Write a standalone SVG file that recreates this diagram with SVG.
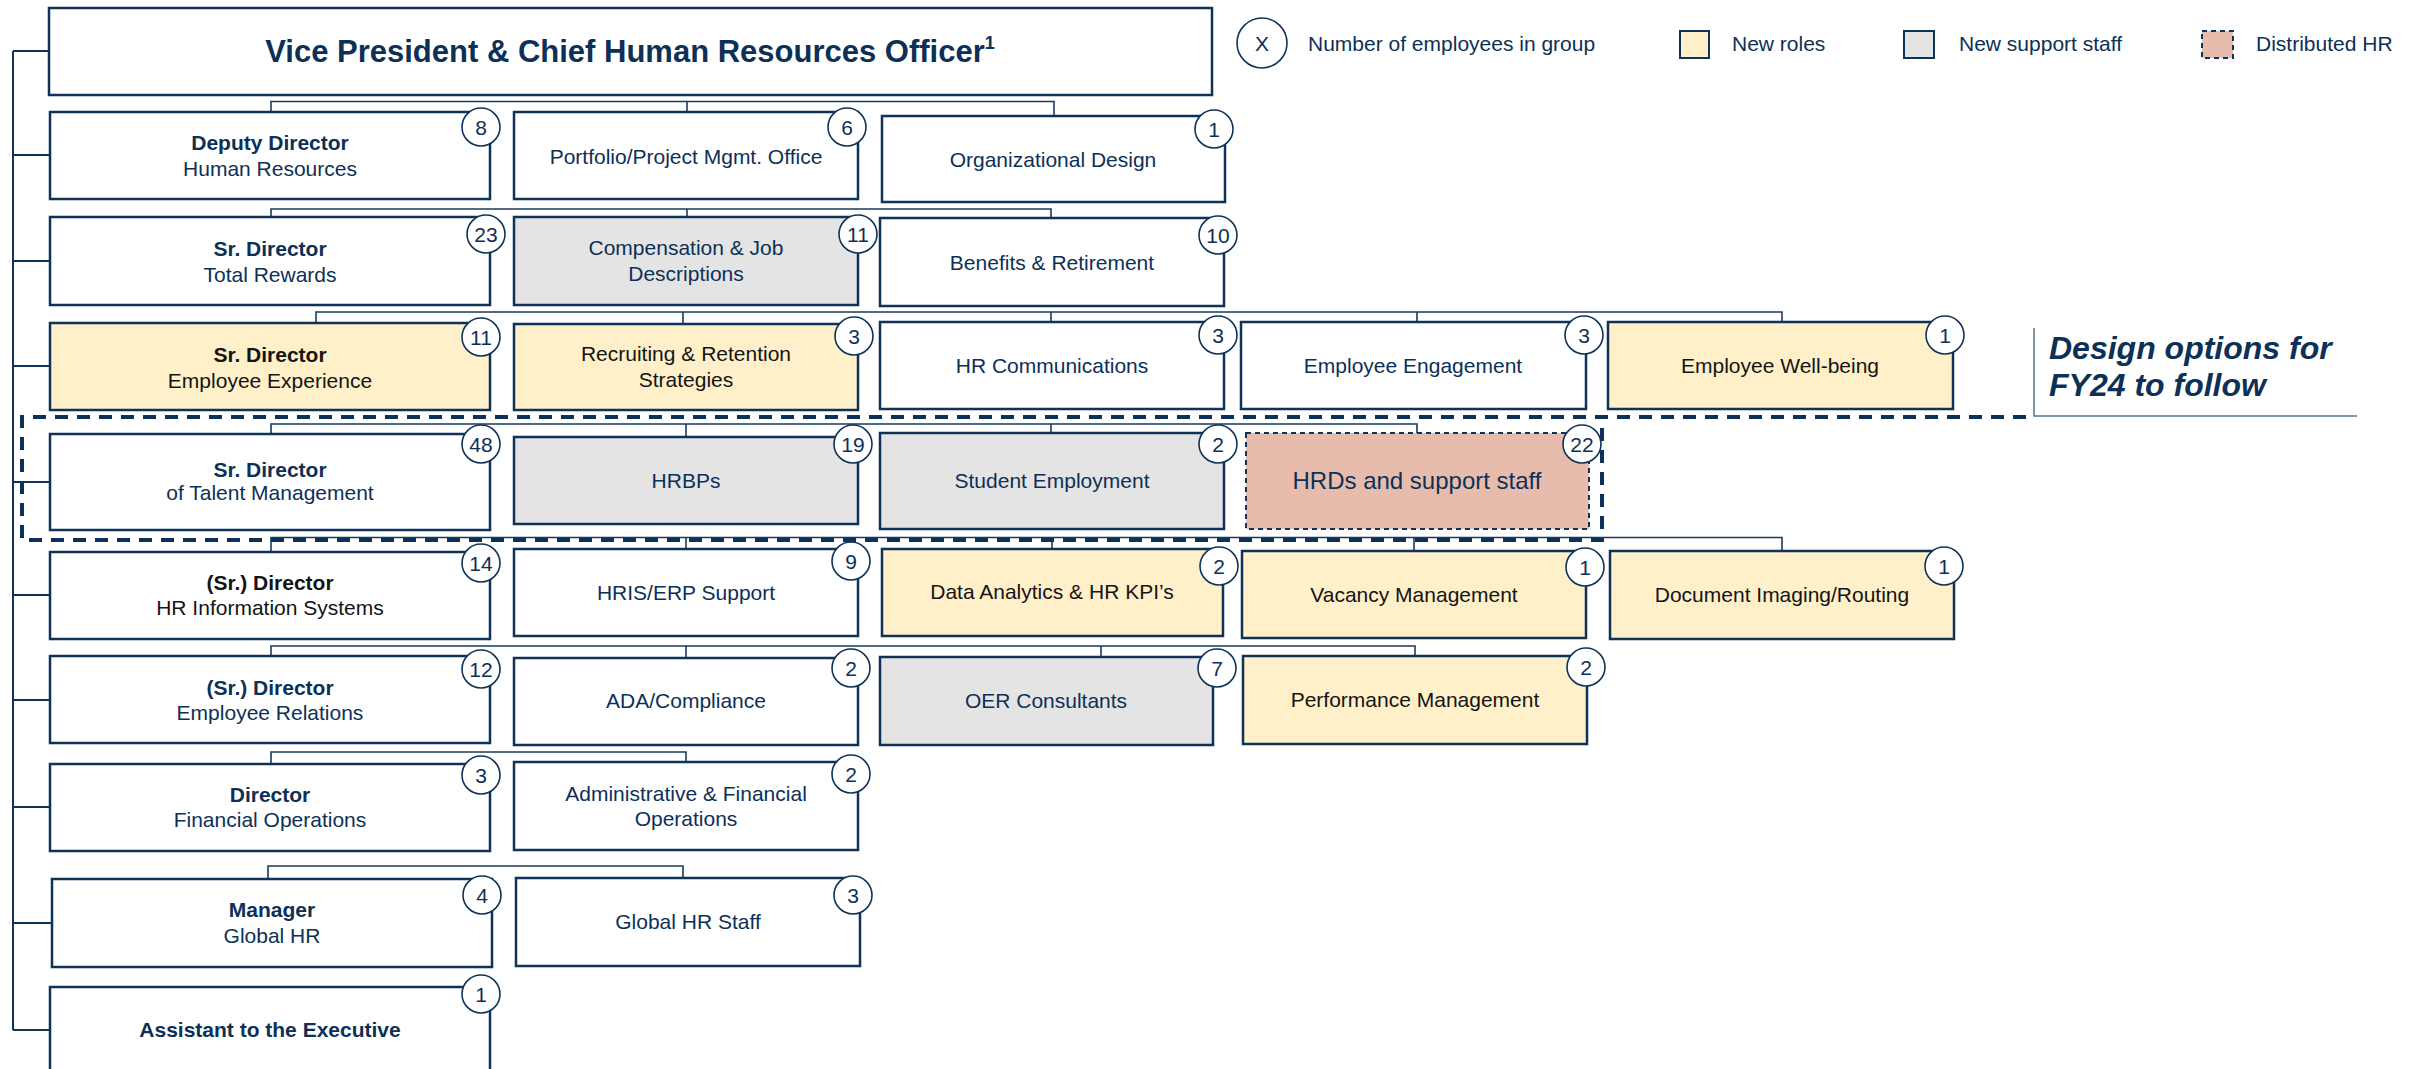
<svg xmlns="http://www.w3.org/2000/svg" width="2409" height="1069" viewBox="0 0 2409 1069">
<style>
.box{fill:#fff;stroke:#0f3358;stroke-width:2.5}
.y{fill:#fff0c9}
.g{fill:#e4e4e4}
.p{fill:#e7bcad;stroke-dasharray:5 4;stroke-width:2}
text{font-family:"Liberation Sans",Arial,sans-serif;font-size:21px;fill:#0d3057;text-anchor:middle}
.b{font-weight:bold}
.k{fill:#141414}
.bd{fill:#fff;stroke:#0f3358;stroke-width:1.6}
.c{fill:none;stroke:#1a3a5e;stroke-width:1.6}
.sp{fill:none;stroke:#0f3358;stroke-width:2}
.lg{text-anchor:start}
</style>
<rect width="2409" height="1069" fill="#fff"/>
<g id="connectors">
<path class="sp" d="M13 51V1030M13 51H50M13 155H50M13 261H50M13 366H50M13 482H50M13 595H50M13 700H50M13 807H50M13 923H52M13 1030H50"/>
<path class="c" d="M271 112V101.5H1054V116M687 101.5V112"/>
<path class="c" d="M271 217V209H1051V218M687 209V217"/>
<path class="c" d="M316 323V312H1782V322M683 312V324M1051 312V322M1417 312V322"/>
<path class="c" d="M271 434V424H1417V433M686 424V437M1051 424V433"/>
<path class="c" d="M271 552V537.5H1782V551M686 537.5V549M1052 537.5V549M1414 537.5V551"/>
<path class="c" d="M271 656V646H1415V656M686 646V658M1101 646V657"/>
<path class="c" d="M271 764V752H686V762"/>
<path class="c" d="M268 879V866H683V878"/>
</g>
<g id="vp"><rect class="box" x="49" y="8" width="1163" height="87"/><text class="b" x="630" y="62" style="font-size:31px">Vice President &amp; Chief Human Resources Officer<tspan style="font-size:18px" dy="-13">1</tspan></text></g>

<g id="deputy"><rect class="box" x="50" y="112" width="440" height="87"/><text class="b" x="270" y="150">Deputy Director</text><text x="270" y="176">Human Resources</text><circle class="bd" cx="481" cy="127" r="19"/><text x="481" cy="0" y="134.5">8</text></g>
<g id="pmo"><rect class="box" x="514" y="112" width="344" height="87"/><text x="686" y="164">Portfolio/Project Mgmt. Office</text><circle class="bd" cx="847" cy="127" r="19"/><text x="847" y="134.5">6</text></g>
<g id="orgdesign"><rect class="box" x="882" y="116" width="343" height="86"/><text x="1053" y="167">Organizational Design</text><circle class="bd" cx="1214" cy="129" r="19"/><text x="1214" y="136.5">1</text></g>

<g id="totalrewards"><rect class="box" x="50" y="217" width="440" height="88"/><text class="b" x="270" y="256">Sr. Director</text><text x="270" y="282">Total Rewards</text><circle class="bd" cx="486" cy="234" r="19"/><text x="486" y="241.5">23</text></g>
<g id="compensation"><rect class="box g" x="514" y="217" width="344" height="88"/><text x="686" y="255">Compensation &amp; Job</text><text x="686" y="281">Descriptions</text><circle class="bd" cx="858" cy="234" r="19"/><text x="858" y="241.5">11</text></g>
<g id="benefits"><rect class="box" x="880" y="218" width="344" height="88"/><text x="1052" y="270">Benefits &amp; Retirement</text><circle class="bd" cx="1218" cy="235" r="19"/><text x="1218" y="242.5">10</text></g>

<g id="empexp"><rect class="box y" x="50" y="323" width="440" height="87"/><text class="b k" x="270" y="362">Sr. Director</text><text class="k" x="270" y="388">Employee Experience</text><circle class="bd" cx="481" cy="337" r="19"/><text x="481" y="344.5">11</text></g>
<g id="recruiting"><rect class="box y" x="514" y="324" width="344" height="86"/><text class="k" x="686" y="361">Recruiting &amp; Retention</text><text class="k" x="686" y="387">Strategies</text><circle class="bd" cx="854" cy="336" r="19"/><text x="854" y="343.5">3</text></g>
<g id="hrcomm"><rect class="box" x="880" y="322" width="344" height="87"/><text x="1052" y="373">HR Communications</text><circle class="bd" cx="1218" cy="335" r="19"/><text x="1218" y="342.5">3</text></g>
<g id="engagement"><rect class="box" x="1241" y="322" width="345" height="87"/><text x="1413" y="373">Employee Engagement</text><circle class="bd" cx="1584" cy="335" r="19"/><text x="1584" y="342.5">3</text></g>
<g id="wellbeing"><rect class="box y" x="1608" y="322" width="345" height="87"/><text class="k" x="1780" y="373">Employee Well-being</text><circle class="bd" cx="1945" cy="335" r="19"/><text x="1945" y="342.5">1</text></g>

<g id="talent"><rect class="box" x="50" y="434" width="440" height="96"/><text class="b" x="270" y="477">Sr. Director</text><text x="270" y="500">of Talent Management</text><circle class="bd" cx="481" cy="444" r="19"/><text x="481" y="451.5">48</text></g>
<g id="hrbps"><rect class="box g" x="514" y="437" width="344" height="87"/><text x="686" y="488">HRBPs</text><circle class="bd" cx="853" cy="444" r="19"/><text x="853" y="451.5">19</text></g>
<g id="student"><rect class="box g" x="880" y="433" width="344" height="96"/><text x="1052" y="488">Student Employment</text><circle class="bd" cx="1218" cy="444" r="19"/><text x="1218" y="451.5">2</text></g>
<g id="hrds"><rect class="box p" x="1246" y="433" width="343" height="96"/><text x="1417" y="489" style="font-size:24px">HRDs and support staff</text><circle class="bd" cx="1582" cy="444" r="19"/><text x="1582" y="451.5">22</text></g>

<g id="hris"><rect class="box" x="50" y="552" width="440" height="87"/><text class="b k" x="270" y="590">(Sr.) Director</text><text class="k" x="270" y="615">HR Information Systems</text><circle class="bd" cx="481" cy="563" r="19"/><text x="481" y="570.5">14</text></g>
<g id="erp"><rect class="box" x="514" y="549" width="344" height="87"/><text x="686" y="600">HRIS/ERP Support</text><circle class="bd" cx="851" cy="561" r="19"/><text x="851" y="568.5">9</text></g>
<g id="analytics"><rect class="box y" x="882" y="549" width="341" height="87"/><text class="k" x="1052" y="599">Data Analytics &amp; HR KPI’s</text><circle class="bd" cx="1219" cy="566" r="19"/><text x="1219" y="573.5">2</text></g>
<g id="vacancy"><rect class="box y" x="1242" y="551" width="344" height="87"/><text class="k" x="1414" y="602">Vacancy Management</text><circle class="bd" cx="1585" cy="567" r="19"/><text x="1585" y="574.5">1</text></g>
<g id="imaging"><rect class="box y" x="1610" y="551" width="344" height="88"/><text class="k" x="1782" y="602">Document Imaging/Routing</text><circle class="bd" cx="1944" cy="566" r="19"/><text x="1944" y="573.5">1</text></g>

<g id="emprel"><rect class="box" x="50" y="656" width="440" height="87"/><text class="b" x="270" y="695">(Sr.) Director</text><text x="270" y="720">Employee Relations</text><circle class="bd" cx="481" cy="669" r="19"/><text x="481" y="676.5">12</text></g>
<g id="ada"><rect class="box" x="514" y="658" width="344" height="87"/><text x="686" y="708">ADA/Compliance</text><circle class="bd" cx="851" cy="668" r="19"/><text x="851" y="675.5">2</text></g>
<g id="oer"><rect class="box g" x="880" y="657" width="333" height="88"/><text x="1046" y="708">OER Consultants</text><circle class="bd" cx="1217" cy="668" r="19"/><text x="1217" y="675.5">7</text></g>
<g id="performance"><rect class="box y" x="1243" y="656" width="344" height="88"/><text class="k" x="1415" y="707">Performance Management</text><circle class="bd" cx="1586" cy="667" r="19"/><text x="1586" y="674.5">2</text></g>

<g id="finops"><rect class="box" x="50" y="764" width="440" height="87"/><text class="b" x="270" y="802">Director</text><text x="270" y="827">Financial Operations</text><circle class="bd" cx="481" cy="775" r="19"/><text x="481" y="782.5">3</text></g>
<g id="adminfin"><rect class="box" x="514" y="762" width="344" height="88"/><text x="686" y="801">Administrative &amp; Financial</text><text x="686" y="826">Operations</text><circle class="bd" cx="851" cy="774" r="19"/><text x="851" y="781.5">2</text></g>

<g id="globalhr"><rect class="box" x="52" y="879" width="440" height="88"/><text class="b" x="272" y="917">Manager</text><text x="272" y="943">Global HR</text><circle class="bd" cx="482" cy="895" r="19"/><text x="482" y="902.5">4</text></g>
<g id="globalstaff"><rect class="box" x="516" y="878" width="344" height="88"/><text x="688" y="929">Global HR Staff</text><circle class="bd" cx="853" cy="895" r="19"/><text x="853" y="902.5">3</text></g>

<g id="assistant"><rect class="box" x="50" y="987" width="440" height="100"/><text class="b" x="270" y="1037">Assistant to the Executive</text><circle class="bd" cx="481" cy="994" r="19"/><text x="481" y="1001.5">1</text></g>

<g id="distributed-group"><path d="M2026 417H22V540H1602V417" fill="none" stroke="#0d3057" stroke-width="4" stroke-dasharray="13 9"/></g>

<g id="design-note"><path d="M2034 328V416H2357" fill="none" stroke="#5b7390" stroke-width="1.5"/><text class="b lg" x="2049" y="359" style="font-size:32px;font-style:italic">Design options for</text><text class="b lg" x="2049" y="396" style="font-size:32px;font-style:italic">FY24 to follow</text></g>

<g id="legend">
<circle class="bd" cx="1262" cy="43" r="25"/><text x="1262" y="50.5">X</text><text class="lg" x="1308" y="51">Number of employees in group</text>
<rect class="box y" x="1680" y="31" width="29" height="27" style="stroke-width:2"/><text class="lg" x="1732" y="51">New roles</text>
<rect class="box g" x="1904" y="31" width="30" height="27" style="stroke-width:2"/><text class="lg" x="1959" y="51">New support staff</text>
<rect class="box p" x="2202" y="31" width="31" height="27"/><text class="lg" x="2256" y="51">Distributed HR</text>
</g>
</svg>
